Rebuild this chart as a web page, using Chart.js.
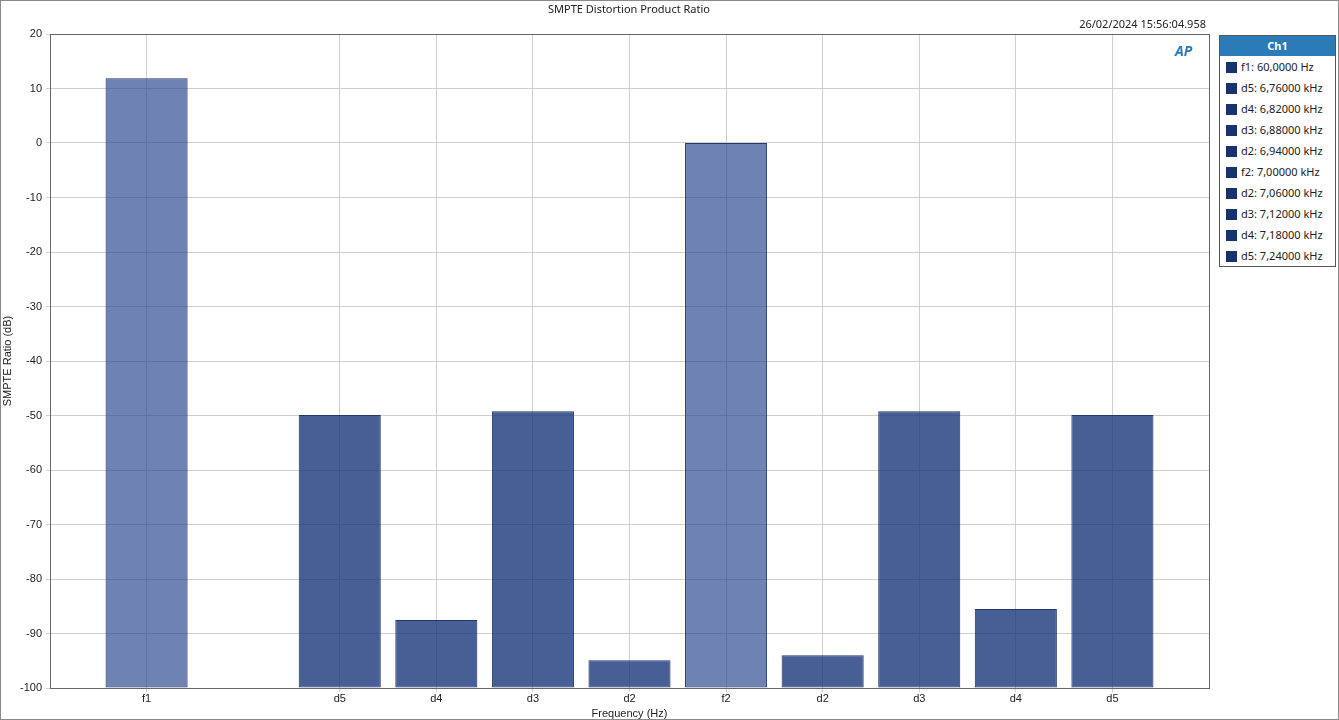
<!DOCTYPE html>
<html>
<head>
<meta charset="utf-8">
<script src="https://cdn.jsdelivr.net/npm/chart.js@4.4.1/dist/chart.umd.min.js"></script>
<style>
  body { margin: 0; background: #fff; font-family: "Segoe UI", "Noto Sans", Arial, sans-serif; }
  #wrap { position: relative; width: 1339px; height: 720px; box-sizing: border-box; border: 1px solid #8a8a8a; }
  canvas { position: absolute; left: 0; top: 0; }
  #title { position: absolute; top: 0; left: 0; width: 1256px; text-align: center; font-size: 11px; color: #222; }
  #stamp { position: absolute; top: 15px; right: 132px; font-size: 11px; color: #222; }
  #logo { position: absolute; top: 40px; left: 1174px; font-size: 14px; font-weight: bold; font-style: italic; color: #2b7bb9; }
  #legend { position: absolute; left: 1218px; top: 34px; width: 115px; border: 1px solid #555; background: #fff; font-size: 11px; }
  #legend .hd { background: #2b7bb9; color: #fff; text-align: center; font-weight: bold; height: 20px; line-height: 20px; }
  #legend .it { height: 21px; line-height: 21px; padding-left: 6px; color: #222; white-space: nowrap; }
  #legend .sw { display: inline-block; width: 11px; height: 11px; background: #17336e; vertical-align: -2px; margin-right: 4px; }
</style>
</head>
<body>
<div id="wrap">
  <canvas id="chart" width="1339" height="720"></canvas>
  <div id="title">SMPTE Distortion Product Ratio</div>
  <div id="stamp">26/02/2024 15:56:04.958</div>
  <div id="logo">AP</div>
  <div id="legend"></div>
</div>
<script>
const labels = ['', 'f1', '', 'd5', 'd4', 'd3', 'd2', 'f2', 'd2', 'd3', 'd4', 'd5', ''];
const values = [null, 11.9, null, -49.9, -87.5, -49.2, -94.9, 0, -94.0, -49.2, -85.5, -49.9, null];
const legendItems = ['f1: 60,0000 Hz', 'd5: 6,76000 kHz', 'd4: 6,82000 kHz', 'd3: 6,88000 kHz', 'd2: 6,94000 kHz',
  'f2: 7,00000 kHz', 'd2: 7,06000 kHz', 'd3: 7,12000 kHz', 'd4: 7,18000 kHz', 'd5: 7,24000 kHz'];

const legend = document.getElementById('legend');
legend.innerHTML = '<div class="hd">Ch1</div>' +
  legendItems.map(t => '<div class="it"><span class="sw"></span>' + t + '</div>').join('');

const colors = labels.map(l => l.startsWith('f') ? 'rgba(40,70,140,0.67)' : 'rgba(20,50,120,0.78)');

new Chart(document.getElementById('chart'), {
    type: 'bar',
    data: {
        labels: labels,
        datasets: [{
            data: values,
            base: -100,
            backgroundColor: colors,
            borderColor: '#22386b',
            borderWidth: 1,
            borderSkipped: false,
            barPercentage: 0.85,
            categoryPercentage: 1
        }]
    },
    options: {
        responsive: false,
        animation: false,
        layout: { padding: { left: 0, top: 33, right: 131, bottom: 0 } },
        plugins: { legend: { display: false }, tooltip: { enabled: false } },
        scales: {
            x: {
                offset: false,
                grid: {
                    offset: false,
                    color: ctx => (ctx.index === 0 || labels[ctx.index] === '') ? 'rgba(0,0,0,0)' : '#cfcfcf',
                    tickLength: 4
                },
                border: { color: '#666' },
                ticks: { color: '#222', font: { size: 11 }, maxRotation: 0, autoSkip: false, padding: 0 },
                title: { display: true, text: 'Frequency (Hz)', color: '#222', font: { size: 11 }, padding: 0 },
                afterFit: s => { s.height = 33; }
            },
            y: {
                min: -100, max: 20,
                ticks: { stepSize: 10, color: '#222', font: { size: 11 }, padding: 4 },
                grid: { color: '#cfcfcf', tickLength: 4 },
                border: { color: '#666' },
                title: { display: true, text: 'SMPTE Ratio (dB)', color: '#222', font: { size: 11 }, padding: 0 },
                afterFit: s => { s.width = 49; }
            }
        }
    },
    plugins: [{
        id: 'frame',
        afterDraw(chart) {
            const a = chart.chartArea, c = chart.ctx;
            c.save();
            c.strokeStyle = '#666';
            c.lineWidth = 1;
            c.strokeRect(a.left + 0.5, a.top + 0.5, a.width, a.height);
            c.restore();
        }
    }]
});
</script>
</body>
</html>
